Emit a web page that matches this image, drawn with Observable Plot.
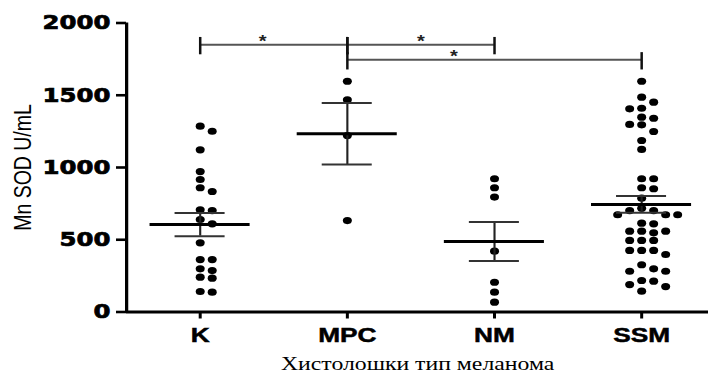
<!DOCTYPE html>
<html><head><meta charset="utf-8">
<script src="https://cdn.jsdelivr.net/npm/d3@7"></script>
<script src="https://cdn.jsdelivr.net/npm/@observablehq/plot@0.6"></script>
<style>
html,body{margin:0;padding:0;background:#fff;}
#chart svg{transform:scaleX(1.25);transform-origin:0 0;display:block;}
#chart svg g[aria-label="y-axis tick label"] text{stroke:#000;stroke-width:0.7px;}
#chart svg g[aria-label="x-axis tick label"] text{stroke:#000;stroke-width:0.5px;}
</style></head><body><div id="chart"></div>
<script>
// ---- data ----
const categories = ["K", "MPC", "NM", "SSM"];
const valuesK = [1286, 1251, 1122, 972, 917, 860, 834, 707, 702, 640, 610, 479, 363, 363, 299, 287, 241, 234, 142, 137];
const valuesMPC = [1597, 1468, 1221, 633];
const valuesNM = [922, 860, 795, 421, 206, 137, 68];
const valuesSSM = [1597, 1487, 1452, 1410, 1406, 1348, 1341, 1298, 1295, 1249, 1187, 1125,
  922, 922, 860, 853, 788, 718, 702, 702, 673, 673, 673, 615, 610, 559, 559, 559, 548,
  495, 495, 495, 426, 426, 426, 398, 327, 299, 282, 282, 218, 213, 190, 176, 144];
const groupMeans = [605, 1233, 488, 744];
const groupSEM = [80, 213, 135, 58];
const yTicks = [0, 500, 1000, 1500, 2000];
const bracketFrom = ["K", "MPC", "MPC"];
const bracketTo = ["MPC", "NM", "SSM"];
const bracketLevel = [1850, 1850, 1745];
const bracketStarAt = [0.424, 1.5, 1.724];
const yTitle = "Mn SOD U/mL";
const xTitle = "Хистолошки тип меланома";

// ---- layout ----
const W = 568, H = 374, mL = 100.8, mR = 1.6, mT = 22.5, mB = 62.5;
const xDomain = [-0.5, 3.455];
const pxPerIndex = (W - mL - mR) / (xDomain[1] - xDomain[0]);
const pxPerValue = (H - mT - mB) / 2000;
const R = 3.6;
const colStep = 9.6 / pxPerIndex;
const collide = 7.4 / pxPerValue;

function swarm(values) {
  const placed = [];
  const sorted = values.slice().sort((a, b) => b - a);
  for (const v of sorted) {
    for (let j = 0; j < 40; j++) {
      const k = j === 0 ? 0 : (j % 2 ? (j + 1) / 2 : -j / 2);
      if (!placed.some(p => p.k === k && Math.abs(p.v - v) < collide)) { placed.push({v, k}); break; }
    }
  }
  return placed;
}

const groups = [valuesK, valuesMPC, valuesNM, valuesSSM];
const points = groups.flatMap((vals, i) => swarm(vals).map(p => ({i, v: p.v, k: p.k})));
const stats = categories.map((c, i) => ({i, m: groupMeans[i], s: groupSEM[i]}));
const caps = stats.flatMap(d => [{i: d.i, y: d.m + d.s}, {i: d.i, y: d.m - d.s}]);
const brackets = bracketFrom.map((f, j) => ({
  a: categories.indexOf(f), b: categories.indexOf(bracketTo[j]), level: bracketLevel[j], star: bracketStarAt[j]
}));
const bracketEnds = brackets.flatMap(d => [{x: d.a, level: d.level}, {x: d.b, level: d.level}]);

const meanHalf = 0.34, capHalf = 0.17;

const chart = Plot.plot({
  width: W, height: H,
  marginLeft: mL, marginRight: mR, marginTop: mT, marginBottom: mB,
  style: {fontFamily: "Liberation Sans, Arial, sans-serif", background: "#fff", color: "#000"},
  x: {domain: xDomain},
  y: {domain: [0, 2000]},
  marks: [
    Plot.axisY({ticks: yTicks, tickFormat: d => String(d), tickSize: 8, tickPadding: 5, fontSize: 19.5, fontWeight: "bold",
      fontFamily: "DejaVu Sans", strokeWidth: 2.6, label: null}),
    Plot.axisX({ticks: [0, 1, 2, 3], tickFormat: i => categories[i], tickSize: 7, tickPadding: 8,
      fontSize: 21, fontWeight: "bold", strokeWidth: 2.4, label: null}),
    Plot.ruleX([xDomain[0]], {y1: 0, y2: 2000, strokeWidth: 2.6}),
    Plot.ruleY([0], {strokeWidth: 3}),
    // brackets
    Plot.ruleY(brackets, {y: "level", x1: "a", x2: "b", stroke: "#555", strokeWidth: 2}),
    Plot.ruleX(bracketEnds, {x: "x", y1: d => d.level - 70, y2: d => d.level + 50, stroke: "#111", strokeWidth: 2}),
    Plot.text(brackets, {x: "star", y: "level", text: () => "*", dy: -3, fontSize: 16, fontWeight: "bold", fill: "#222"}),
    // dots
    Plot.dot(points, {x: d => d.i + d.k * colStep, y: "v", r: R, fill: "#000", stroke: "none"}),
    // error bars
    Plot.ruleX(stats, {x: "i", y1: d => d.m - d.s, y2: d => d.m + d.s, stroke: "#222", strokeWidth: 1.7}),
    Plot.ruleY(caps, {y: "y", x1: d => d.i - capHalf, x2: d => d.i + capHalf, stroke: "#333", strokeWidth: 2}),
    Plot.ruleY(stats, {y: "m", x1: d => d.i - meanHalf, x2: d => d.i + meanHalf, stroke: "#000", strokeWidth: 3}),
    // titles
    Plot.text([yTitle], {frameAnchor: "left", textAnchor: "middle", rotate: -90, dx: -83, text: d => d, fontSize: 19.5}),
    Plot.text([xTitle], {frameAnchor: "bottom", dy: 58, text: d => d, fontSize: 19, fontFamily: "Liberation Serif"})
  ]
});
document.getElementById("chart").appendChild(chart);
</script>
</body></html>
